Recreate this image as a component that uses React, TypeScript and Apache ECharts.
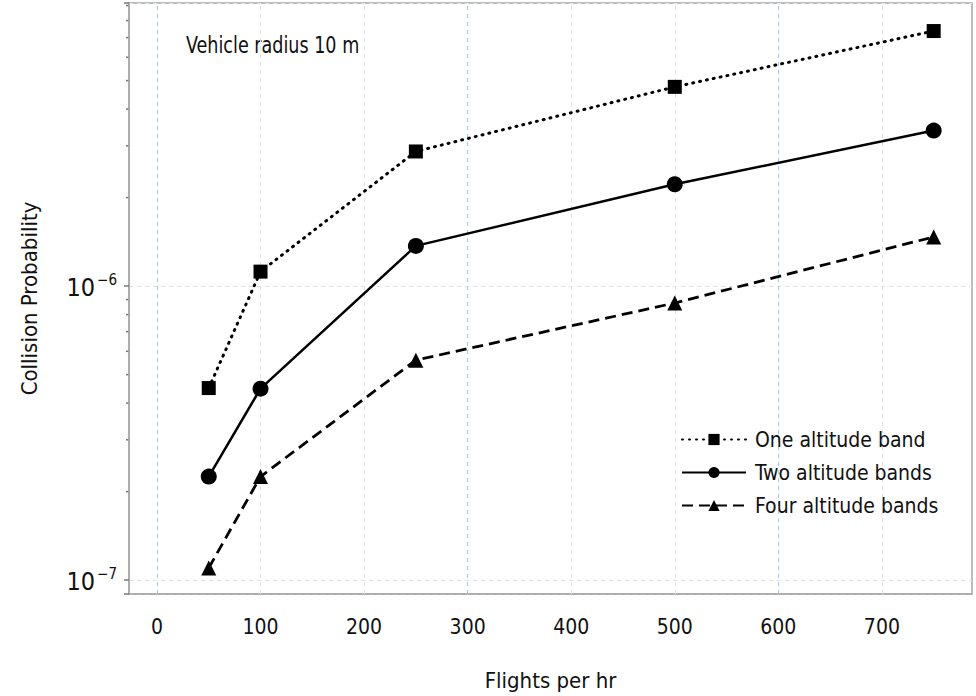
import React, { useEffect, useRef } from "react";
import * as echarts from "echarts";

const flights = [50, 100, 250, 500, 750];
const oneBand = [4.5e-7, 1.12e-6, 2.87e-6, 4.76e-6, 7.37e-6];
const twoBands = [2.25e-7, 4.48e-7, 1.37e-6, 2.22e-6, 3.38e-6];
const fourBands = [1.1e-7, 2.25e-7, 5.6e-7, 8.76e-7, 1.47e-6];
const seriesNames = ["One altitude band", "Two altitude bands", "Four altitude bands"];
const blueGridX = [0, 300, 600];
const grayGridX = [100, 200, 400, 500, 700];
const minorTickValues = [2e-7, 3e-7, 4e-7, 5e-7, 6e-7, 7e-7, 8e-7, 9e-7, 2e-6, 3e-6, 4e-6, 5e-6, 6e-6, 7e-6, 8e-6, 9e-6];
const annotation = "Vehicle radius 10 m";

const FONT = "'DejaVu Sans Condensed', sans-serif";
const TXT = "#111";
const W = "normal";

export default function App() {
  const ref = useRef<HTMLDivElement>(null);
  useEffect(() => {
    if (!ref.current) return;
    const chart = echarts.init(ref.current, null, { renderer: "svg" });
    const pairs = (arr: number[]) => flights.map((x, i) => [x, arr[i]]);
    const sup = (v: number) => {
      const e = Math.log10(v);
      if (Math.abs(e - Math.round(e)) > 1e-6) return "";
      return "{b|10}{s|\u2212" + Math.abs(Math.round(e)) + "}";
    };
    const annot = {
      type: "text", x: 186, y: 33, scaleX: 0.85,
      style: { text: annotation, fontSize: 23, fontWeight: W, fill: TXT, fontFamily: FONT },
    };
    const gridMarks = [
      ...blueGridX.map((x) => ({ xAxis: x, lineStyle: { color: "#93cfe8", type: [4, 4], width: 1 } })),
      ...grayGridX.map((x) => ({ xAxis: x, lineStyle: { color: "#e0e0e0", type: [4, 4], width: 1 } })),
    ];
    chart.setOption({
      animation: false,
      textStyle: { fontFamily: FONT },
      grid: {
        left: 129, right: 4, top: 3, bottom: 100,
        show: true, borderColor: "#a8a8a8", borderWidth: 1.5,
      },
      xAxis: {
        type: "value", min: -27, max: 787, splitNumber: 8,
        name: "Flights per hr", nameLocation: "middle", nameGap: 75,
        nameTextStyle: { fontSize: 22, fontWeight: W, color: TXT, fontFamily: FONT },
        axisLine: { show: true, onZero: false, lineStyle: { color: "#a8a8a8", width: 1.5 } },
        axisTick: { show: false },
        axisLabel: {
          fontSize: 21, fontWeight: W, color: TXT, margin: 22, fontFamily: FONT,
          formatter: (v: number) => (Math.abs(v % 100) < 1e-6 ? String(v) : ""),
        },
        splitLine: { show: false },
      },
      yAxis: {
        type: "log", logBase: 10, min: 8.97e-8, max: 9.18e-6,
        name: "Collision Probability", nameLocation: "middle", nameGap: 89,
        nameTextStyle: { fontSize: 22, fontWeight: W, color: TXT, fontFamily: FONT },
        axisLine: { show: true, onZero: false, lineStyle: { color: "#a8a8a8", width: 1.5 } },
        axisTick: { show: true, length: 5, lineStyle: { color: "#777", width: 1.5 } },
        axisLabel: {
          margin: 12, formatter: sup,
          rich: {
            b: { fontSize: 25, fontWeight: W, color: TXT, fontFamily: FONT, lineHeight: 28, verticalAlign: "bottom" },
            s: { fontSize: 15, fontWeight: W, color: TXT, fontFamily: FONT, lineHeight: 28, verticalAlign: "top", padding: [0, 0, 0, 2] },
          },
        },
        splitLine: { show: true, lineStyle: { color: "#e0e0e0", type: [4, 4], width: 1 } },
      },
      legend: {
        orient: "vertical", left: 676, top: 424,
        itemWidth: 64, itemHeight: 14, itemGap: 12,
        textStyle: { fontSize: 21, fontWeight: W, color: TXT, fontFamily: FONT, padding: [0, 0, 0, 4] },
        data: seriesNames,
      },
      series: [
        {
          name: seriesNames[0], type: "line", data: pairs(oneBand),
          symbol: "rect", symbolSize: 14,
          itemStyle: { color: "#000" },
          lineStyle: { color: "#000", width: 3, type: [1, 6], cap: "round" },
          markLine: {
            silent: true, symbol: "none", label: { show: false }, z: 1,
            data: gridMarks,
          },
          z: 3,
        },
        {
          name: seriesNames[1], type: "line", data: pairs(twoBands),
          symbol: "circle", symbolSize: 16,
          itemStyle: { color: "#000" },
          lineStyle: { color: "#000", width: 2.5, type: "solid" },
          z: 3,
        },
        {
          name: seriesNames[2], type: "line", data: pairs(fourBands),
          symbol: "triangle", symbolSize: 15,
          itemStyle: { color: "#000" },
          lineStyle: { color: "#000", width: 2.8, type: [11, 6] },
          z: 3,
        },
      ],
      graphic: [annot],
    });
    const ticks = minorTickValues.map((v) => {
      const p = chart.convertToPixel({ yAxisIndex: 0 }, v) as number;
      return {
        type: "line",
        shape: { x1: 129 - 3, y1: p, x2: 129, y2: p },
        style: { stroke: "#777", lineWidth: 1.5 },
        silent: true,
      };
    });
    chart.setOption({ graphic: [annot, ...ticks] }, { replaceMerge: ["graphic"] });
    return () => chart.dispose();
  }, []);
  return (
    <div
      ref={ref}
      style={{ position: "fixed", left: 0, top: 0, width: 976, height: 696, background: "#fff" }}
    />
  );
}
